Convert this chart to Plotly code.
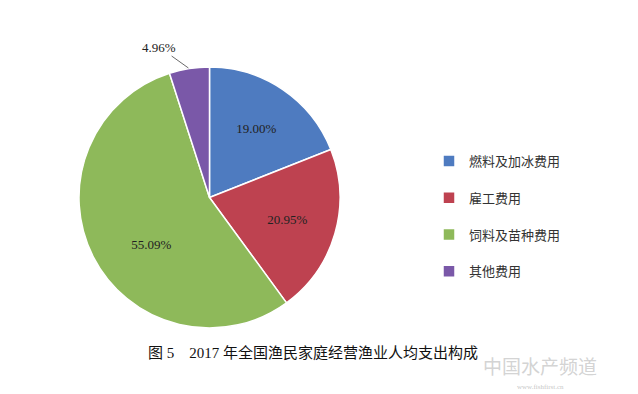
import math
import plotly.graph_objects as go

categories = ["燃料及加冰费用", "雇工费用", "饲料及苗种费用", "其他费用"]
values = [19.00, 20.95, 55.09, 4.96]
colors = ["#4E7BC0", "#BE4250", "#8EB95A", "#7A58A8"]
text_positions = ["inside", "inside", "inside", "none"]
label_templates = ["%{value:.2f}%", "%{value:.2f}%", "\u00a0<br>\u00a0<br>%{value:.2f}%", ""]
title_text = "图 5　2017 年全国渔民家庭经营渔业人均支出构成"

legend_labels = [c + "<br> " for c in categories]

# pie geometry (paper pixels)
W, H = 638, 394
px_left, px_right, px_top, px_bottom = 79, 340, 67, 328
cx = (px_left + px_right) / 2
cy = (px_top + px_bottom) / 2
R = (px_right - px_left) / 2

fig = go.Figure(go.Pie(
    labels=legend_labels,
    values=values,
    sort=False,
    direction="clockwise",
    rotation=0,
    marker=dict(colors=colors, line=dict(color="white", width=1.5)),
    texttemplate=label_templates,
    textposition=text_positions,
    insidetextorientation="horizontal",
    textfont=dict(family="Liberation Serif", size=13, color="#222222"),
    domain=dict(x=[px_left / W, px_right / W], y=[1 - px_bottom / H, 1 - px_top / H]),
    hoverinfo="none",
))

# outside label for the small last slice, with leader line to its mid-angle edge
total = sum(values)
start = sum(values[:-1]) / total
mid = (start + values[-1] / total / 2) * 2 * math.pi
edge_x = cx + R * math.sin(mid)
edge_y = cy - R * math.cos(mid)

fig.update_layout(
    width=W, height=H,
    margin=dict(l=0, r=0, t=0, b=0),
    paper_bgcolor="white",
    showlegend=True,
    legend=dict(
        x=429 / W, y=1 - 146 / H, xanchor="left", yanchor="top",
        font=dict(family="Liberation Serif, Noto Sans CJK SC", size=13, color="#333333"),
        valign="top",
        bgcolor="rgba(0,0,0,0)",
    ),
    annotations=[
        dict(text=f"{values[-1]:.2f}%", x=edge_x / W, y=1 - edge_y / H, xref="paper", yref="paper",
             showarrow=True, arrowhead=0, arrowwidth=0.8, arrowcolor="#444444",
             ax=159 - edge_x, ay=47 - edge_y, standoff=1,
             font=dict(family="Liberation Serif", size=13, color="#222222")),
        dict(text=title_text, x=313 / W, y=1 - 352 / H, xref="paper", yref="paper",
             showarrow=False, xanchor="center", yanchor="middle",
             font=dict(family="Liberation Serif, Noto Sans CJK SC", size=15, color="#111111")),
        dict(text="中国水产频道", x=540 / W, y=1 - 365 / H, xref="paper", yref="paper",
             showarrow=False, xanchor="center", yanchor="middle",
             font=dict(family="Noto Sans CJK SC", size=19, color="rgba(200,200,200,0.8)")),
        dict(text="www.fishfirst.cn", x=540 / W, y=1 - 387 / H, xref="paper", yref="paper",
             showarrow=False, xanchor="center", yanchor="middle",
             font=dict(family="Liberation Serif", size=7, color="rgba(190,190,190,0.9)")),
    ],
)

fig.write_html("out.html", config={"displayModeBar": False},
               post_script="document.body.style.margin='0px';")
